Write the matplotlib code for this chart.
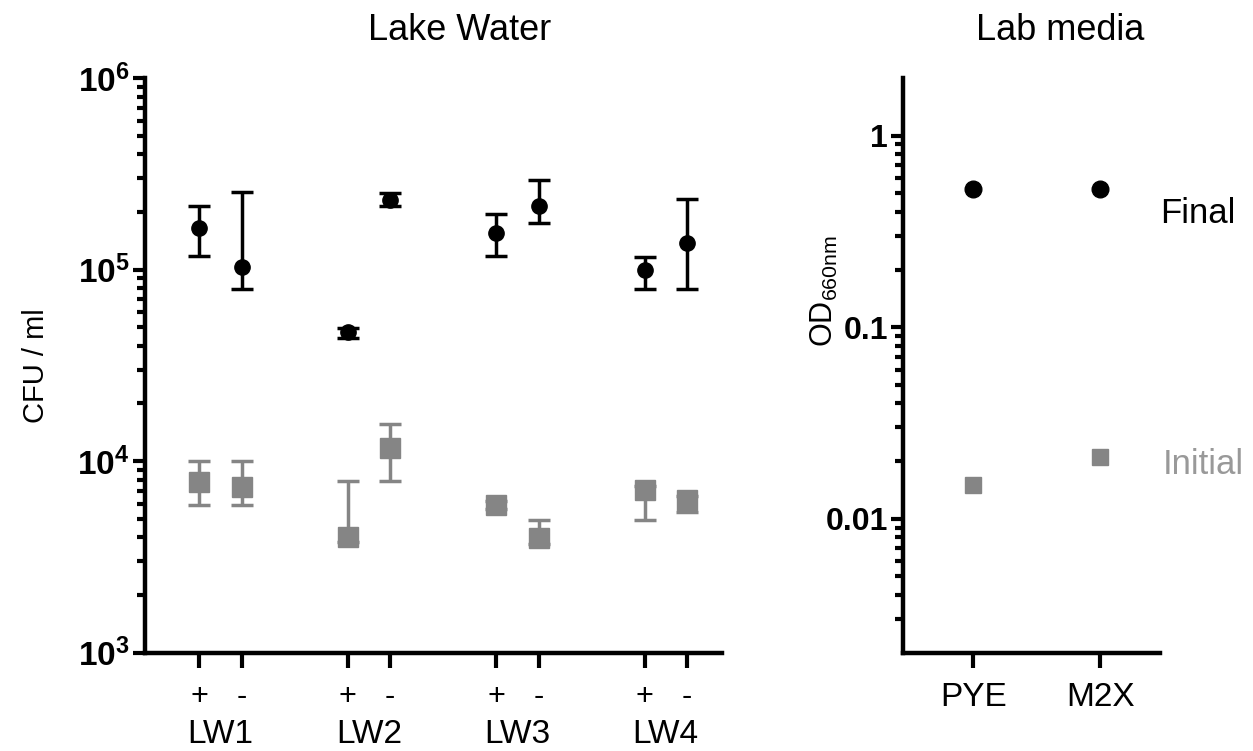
import numpy as np
import matplotlib
matplotlib.use("Agg")
import matplotlib.pyplot as plt
from matplotlib.ticker import FixedLocator, NullFormatter

plt.rcParams['font.family'] = ['Liberation Sans', 'DejaVu Sans']
plt.rcParams['mathtext.fontset'] = 'custom'
plt.rcParams['mathtext.rm'] = 'Liberation Sans'
plt.rcParams['mathtext.bf'] = 'Liberation Sans:bold'

# lake water data (CFU / ml)
groups = ["LW1", "LW2", "LW3", "LW4"]
treat = ["+", "-", "+", "-", "+", "-", "+", "-"]
x_pos = [0, 1, 3.5, 4.5, 7, 8, 10.5, 11.5]

final_mean = [1.65e5, 1.03e5, 4.7e4, 2.3e5, 1.55e5, 2.15e5, 1.0e5, 1.38e5]
final_hi = [2.15e5, 2.55e5, 4.95e4, 2.5e5, 1.95e5, 2.95e5, 1.17e5, 2.35e5]
final_lo = [1.18e5, 7.9e4, 4.4e4, 2.15e5, 1.18e5, 1.76e5, 7.9e4, 7.9e4]

initial_mean = [7.8e3, 7.3e3, 4.0e3, 1.17e4, 5.9e3, 3.95e3, 7.1e3, 6.3e3]
initial_hi = [1.0e4, 1.0e4, 7.9e3, 1.57e4, 6.2e3, 4.95e3, 7.4e3, 6.6e3]
initial_lo = [5.9e3, 5.9e3, 3.8e3, 7.9e3, 5.6e3, 3.7e3, 4.95e3, 5.4e3]

# lab media data (OD660)
media = ["PYE", "M2X"]
od_final = [0.53, 0.53]
od_initial = [0.015, 0.021]

gray = "#858585"

fig = plt.figure(figsize=(12.53, 7.51), dpi=100)
ax1 = fig.add_axes([0.1157, 0.1309, 0.4603, 0.7652])
ax2 = fig.add_axes([0.7209, 0.1309, 0.2049, 0.7652])

# --- left panel
fm = np.array(final_mean)
im = np.array(initial_mean)
ax1.errorbar(x_pos, im, yerr=[im - np.array(initial_lo), np.array(initial_hi) - im],
             fmt='s', color=gray, ms=14, elinewidth=2.5, capsize=8, capthick=2.5)
ax1.errorbar(x_pos, fm, yerr=[fm - np.array(final_lo), np.array(final_hi) - fm],
             fmt='o', color='black', ms=11, elinewidth=2.5, capsize=8, capthick=2.5)
ax1.set_yscale('log')
ax1.set_ylim(1e3, 1e6)
ax1.set_xlim(-1.28, 12.32)
ax1.set_yticks([1e3, 1e4, 1e5, 1e6])
ax1.set_yticklabels([r"$\mathbf{10^{3}}$", r"$\mathbf{10^{4}}$", r"$\mathbf{10^{5}}$", r"$\mathbf{10^{6}}$"],
                    fontsize=24)
minor1 = [k * 10.0**e for e in (3, 4, 5) for k in range(2, 10)]
ax1.yaxis.set_minor_locator(FixedLocator(minor1))
ax1.yaxis.set_minor_formatter(NullFormatter())
ax1.set_xticks(x_pos)
ax1.set_xticklabels(treat, fontsize=22)
ax1.set_ylabel("CFU / ml", fontsize=21, labelpad=20)

for i, g in enumerate(groups):
    cx = (x_pos[2 * i] + x_pos[2 * i + 1]) / 2
    ax1.text(cx, -0.143, g, transform=ax1.get_xaxis_transform(), ha='center', va='center', fontsize=24)

# --- right panel
ax2.plot([0, 1], od_final, 'o', color='black', ms=12)
ax2.plot([0, 1], od_initial, 's', color=gray, ms=12)
ax2.set_yscale('log')
ax2.set_ylim(0.002, 2)
ax2.set_xlim(-0.553, 1.47)
ax2.set_yticks([0.01, 0.1, 1])
ax2.set_yticklabels(["0.01", "0.1", "1"], fontsize=23, fontweight='bold')
minor2 = [k * 10.0**e for e in (-3, -2, -1) for k in range(2, 10)]
minor2 = [v for v in minor2 if 0.0025 < v < 1]
ax2.yaxis.set_minor_locator(FixedLocator(minor2))
ax2.yaxis.set_minor_formatter(NullFormatter())
ax2.set_xticks([0, 1])
ax2.set_xticklabels(media, fontsize=24)
ax2.set_ylabel(r"OD$_{\mathrm{660nm}}$", fontsize=22)
ax2.yaxis.set_label_coords(-0.245, 0.63)

ax2.text(1.0, 0.765, "Final", transform=ax2.transAxes, ha='left', va='center', fontsize=25)
ax2.text(1.01, 0.327, "Initial", transform=ax2.transAxes, ha='left', va='center', fontsize=25, color='#999999')

for ax in (ax1, ax2):
    for s in ('top', 'right'):
        ax.spines[s].set_visible(False)
    for s in ('left', 'bottom'):
        ax.spines[s].set_linewidth(3.2)
    ax.tick_params(axis='y', which='major', length=9, width=3, pad=2)
    ax.tick_params(axis='y', which='minor', length=6, width=3)
    ax.tick_params(axis='x', which='major', length=11, width=3, pad=10)

fig.text(460 / 1253, 1 - 30 / 751, "Lake Water", ha='center', va='center', fontsize=26)
fig.text(1060 / 1253, 1 - 30 / 751, "Lab media", ha='center', va='center', fontsize=26)

fig.savefig("out.png", dpi=100)
